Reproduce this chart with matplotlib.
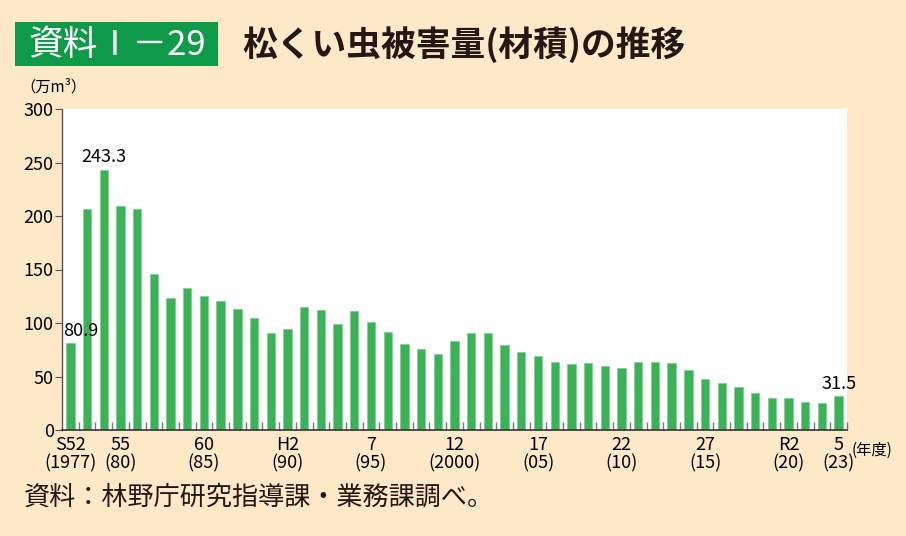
import matplotlib
matplotlib.use("Agg")
import matplotlib.pyplot as plt
from matplotlib.patches import Rectangle
import numpy as np

plt.rcParams['font.family'] = ['Liberation Sans Narrow', 'Noto Sans CJK JP', 'DejaVu Sans']

values = [80.9, 206.7, 243.3, 209.2, 206.4, 146.1, 123.4, 132.7, 125.3, 120.6,
          113.5, 104.5, 91.1, 94.5, 115.0, 112.2, 99.5, 111.3, 100.7, 91.7,
          80.8, 75.9, 71.2, 83.3, 90.8, 91.1, 79.3, 73.1, 68.7, 64.0,
          61.9, 62.5, 59.4, 58.1, 64.0, 64.0, 62.5, 56.0, 47.9, 43.8,
          39.8, 34.8, 30.2, 29.5, 25.8, 24.9, 31.5]
label_idx = [0, 3, 8, 13, 18, 23, 28, 33, 38, 43, 46]
tick_labels = ["S52\n(1977)", "55\n(80)", "60\n(85)", "H2\n(90)", "7\n(95)",
               "12\n(2000)", "17\n(05)", "22\n(10)", "27\n(15)", "R2\n(20)", "5\n(23)"]
annot = {0: "80.9", 2: "243.3", 46: "31.5"}
yticks = [0, 50, 100, 150, 200, 250, 300]

BG = "#FDE8C8"
GREEN = "#3CB15A"

fig = plt.figure(figsize=(9.06, 5.36), dpi=100)
fig.patch.set_facecolor(BG)
ax = fig.add_axes([62/906, 1-430/536, (847-62)/906, (430-109)/536])
ax.set_facecolor("white")

x = np.arange(len(values))
ax.bar(x, values, width=0.5, color=GREEN, edgecolor="#7FD08F", linewidth=0.6, zorder=2)

ax.set_xlim(-0.5, len(values)-0.5)
ax.set_ylim(0, 300)
for s in ["top", "right"]:
    ax.spines[s].set_visible(False)
ax.spines["left"].set_color("#555555")
ax.spines["bottom"].set_color("#333333")
ax.spines["left"].set_linewidth(1.0)
ax.spines["bottom"].set_linewidth(1.2)

ax.set_yticks(yticks)
ax.set_yticklabels([str(v) for v in yticks], fontsize=13)
ax.tick_params(axis="y", direction="out", length=5, color="#555555", pad=1)

ax.set_xticks(np.arange(len(values)) + 0.5, minor=True)
ax.set_xticks(label_idx)
ax.set_xticklabels(tick_labels, fontsize=13, linespacing=1.05)
ax.tick_params(axis="x", which="major", length=0, pad=4)
ax.tick_params(axis="x", which="minor", direction="in", length=6, color="#777777", width=1)

for i, t in annot.items():
    if i == 0:
        ax.text(x[i] - 0.45, values[i] + 3, t, ha="left", va="bottom", fontsize=13, zorder=3)
    else:
        ax.text(x[i], values[i] + 3, t, ha="center", va="bottom", fontsize=13, zorder=3)

# unit labels
fig.text(20/906, 1-87/536, "（万m³）", fontsize=11, ha="left", va="center")
fig.text(852/906, 1-450/536, "(年度)", fontsize=11, ha="left", va="center")

# title
fig.patches.append(Rectangle((15/906, 1-66/536), (218-15)/906, (66-22)/536,
                             transform=fig.transFigure, facecolor="#0E9A48",
                             edgecolor="none"))
fig.text(28/906, 1-45/536, "資料Ⅰ－29", fontsize=25, color="white", ha="left", va="center",
         family=['Noto Sans CJK JP', 'DejaVu Sans'])
fig.text(242/906, 1-45/536, "松くい虫被害量(材積)の推移", fontsize=25, color="#231815",
         ha="left", va="center", fontweight="bold", family=['Noto Sans CJK JP', 'DejaVu Sans'])

# source
fig.text(24/906, 1-497/536, "資料：林野庁研究指導課・業務課調べ。", fontsize=18.8, color="#231815",
         ha="left", va="center", family=['Noto Sans CJK JP', 'DejaVu Sans'])

fig.savefig("out.png", dpi=100, facecolor=BG)
